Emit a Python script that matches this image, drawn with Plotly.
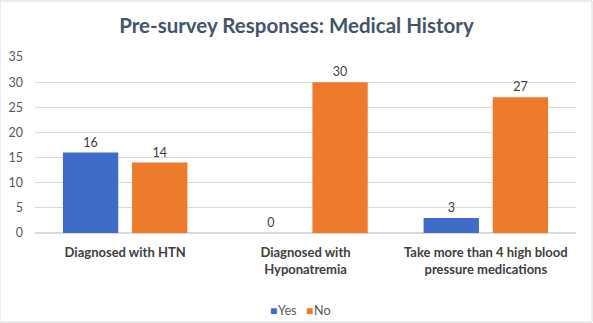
import plotly.graph_objects as go

# Survey answers per question
categories = ["Diagnosed with HTN", "Diagnosed with<br>Hyponatremia",
              "Take more than 4 high blood<br>pressure medications"]
yes_counts = [16, 0, 3]
no_counts = [14, 30, 27]
series_names = ["Yes", "No"]
series_colors = ["#3F6BC9", "#EE7A2C"]

FONT = "Lato, Open Sans, sans-serif"

fig = go.Figure()
for name, vals, col in zip(series_names, [yes_counts, no_counts], series_colors):
    fig.add_trace(go.Bar(
        name=name, x=categories, y=vals,
        marker=dict(color=col, line=dict(color=col, width=0)),
        text=vals, textposition="outside",
        textfont=dict(family=FONT, size=12.5, color="#404040"),
        cliponaxis=False,
    ))

# compact legend row: small coloured squares followed by the series name
legend_text = "&nbsp;&nbsp;&nbsp;".join(
    f"<span style='color:{c}; font-size:12px'>■</span>&#8202;{n}"
    for n, c in zip(series_names, series_colors)
)

fig.update_layout(
    width=593, height=323,
    margin=dict(l=35, r=17, t=57, b=90),
    paper_bgcolor="white", plot_bgcolor="white",
    barmode="group", bargap=0.233, bargroupgap=0.2,
    font=dict(family=FONT, color="#595959"),
    title=dict(
        text="<b>Pre-survey Responses: Medical History</b>",
        x=0.5, xanchor="center", y=0.92, yanchor="middle",
        font=dict(size=20.5, color="#44546A", family=FONT),
    ),
    showlegend=False,
    annotations=[dict(
        text=legend_text, xref="paper", yref="paper",
        x=(300 - 35) / 541, y=-77/176, xanchor="center", yanchor="middle",
        showarrow=False, font=dict(size=12.5, color="#595959", family=FONT),
    )],
)
fig.update_yaxes(
    range=[0, 35], dtick=5, showgrid=True, gridcolor="#D9D9D9", gridwidth=1,
    zeroline=True, zerolinecolor="#D9D9D9", showline=False, automargin=False,
    tickfont=dict(size=12.5, color="#595959"), ticks="", ticklabelstandoff=11,
)
fig.update_xaxes(
    showline=False, ticks="", ticklabelstandoff=10, automargin=False,
    tickfont=dict(size=13, color="#404040", family=FONT),
    tickprefix="<b>", ticksuffix="</b>",
)
# thin frame around the chart
fig.add_shape(type="rect", xref="paper", yref="paper",
              x0=-35/541, x1=1+16/541, y0=-89/176, y1=1+56/176,
              line=dict(color="#D9D9D9", width=1))

fig.write_html("out.html")
